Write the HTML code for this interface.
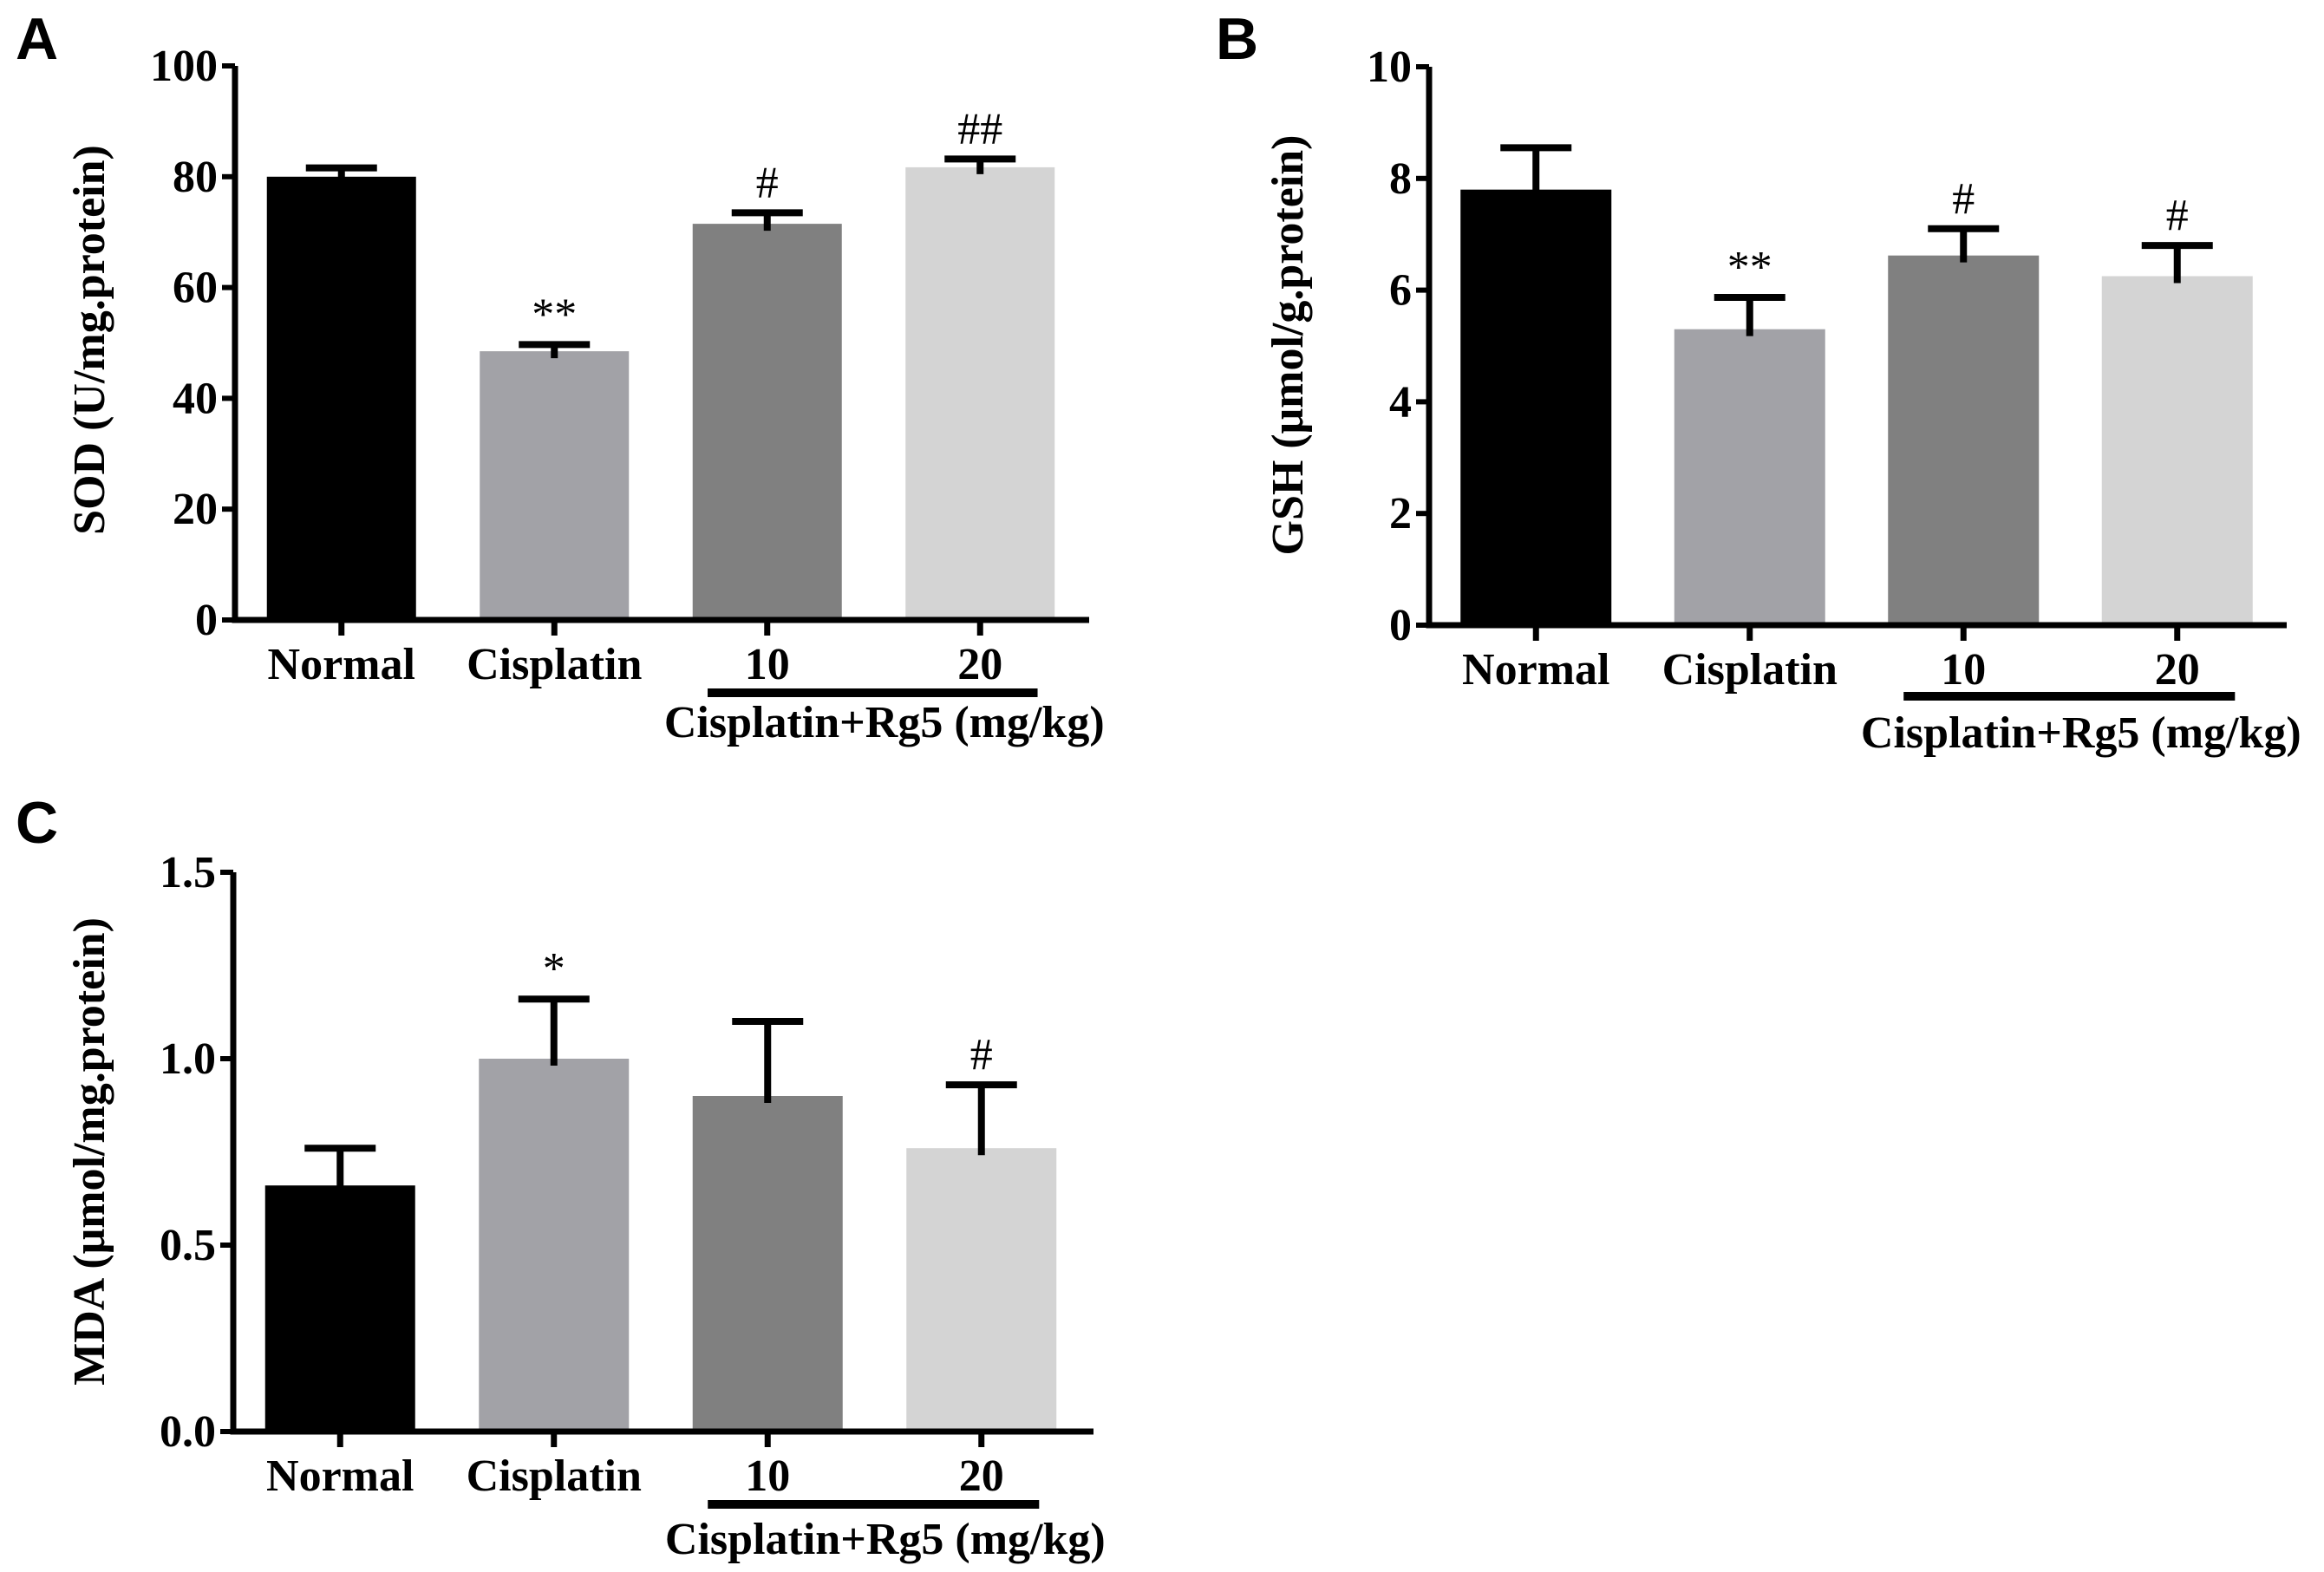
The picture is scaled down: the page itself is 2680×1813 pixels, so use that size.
<!DOCTYPE html>
<html><head><meta charset="utf-8"><style>
html,body{margin:0;padding:0;background:#fff;}
svg{display:block;}
text{font-family:"Liberation Serif",serif;}
text.sans{font-family:"Liberation Sans",sans-serif;}
</style></head>
<body>
<svg id="fig" width="2680" height="1813" viewBox="0 0 2680 1813" xmlns="http://www.w3.org/2000/svg"></svg>
<script>
const categories = ["Normal", "Cisplatin", "10", "20"];
const barColors = ["#000000", "#a2a2a7", "#808080", "#d4d4d4"];
const sodValues = [80, 48.5, 71.5, 81.7];
const sodErrors = [81.6, 49.7, 73.5, 83.2];
const sodMarks = ["", "**", "#", "##"];
const sodTicks = [0, 20, 40, 60, 80, 100];
const gshValues = [7.8, 5.3, 6.62, 6.25];
const gshErrors = [8.55, 5.87, 7.1, 6.8];
const gshMarks = ["", "**", "#", "#"];
const gshTicks = [0, 2, 4, 6, 8, 10];
const mdaValues = [0.66, 1.0, 0.9, 0.76];
const mdaErrors = [0.76, 1.16, 1.10, 0.93];
const mdaMarks = ["", "*", "", "#"];
const mdaTicks = [0, 0.5, 1.0, 1.5];
const mdaTickLabels = ["0.0", "0.5", "1.0", "1.5"];

const NS = "http://www.w3.org/2000/svg";
const svg = document.getElementById("fig");
function mk(tag, attrs, parent, txt) {
  const e = document.createElementNS(NS, tag);
  for (const k in attrs) e.setAttribute(k, attrs[k]);
  if (txt !== undefined) e.textContent = txt;
  (parent || svg).appendChild(e);
  return e;
}

function panel(p) {
  const g = mk("g", {});
  
  
  const yScale = v => p.y0 - (v - p.tmin) / (p.tmax - p.tmin) * (p.y0 - p.y1);
  const L = mk("text", {class: "sans", x: p.letterX, y: p.letterY, "font-weight": "bold", "font-size": 68}, g, p.letter);
  
  
  const bw = p.barW;
  p.values.forEach((v, i) => {
    const cx = p.x0 + p.band * (i + 0.5);
    const top = yScale(v);
    const r = mk("rect", {x: cx - bw / 2, y: top, width: bw, height: p.y0 - top, fill: barColors[i]}, g);
    
    
    const ey = yScale(p.errors[i]);
    const eb = mk("path", {d: `M${cx} ${top + 8} V${ey} M${cx - 41} ${ey} H${cx + 41}`, stroke: "#000", "stroke-width": 8, fill: "none"}, g);
    
    
    if (p.marks[i]) {
      const m = mk("text", {x: cx, y: ey - 18, "text-anchor": "middle", "font-size": 52}, g, p.marks[i]);
      
      
    }
    const t = mk("line", {x1: cx, x2: cx, y1: p.y0, y2: p.y0 + 18, stroke: "#000", "stroke-width": 7}, g);
    
    
    const lab = mk("text", {x: cx, y: p.catY, "text-anchor": "middle", "font-weight": "bold", "font-size": 52}, g, categories[i]);
    
    
  });
  const ax = mk("path", {d: `M${p.x0} ${p.y1} V${p.y0} H${p.xEnd}`, stroke: "#000", "stroke-width": 7, fill: "none"}, g);
  
  
  p.ticks.forEach((t, i) => {
    const y = yScale(t);
    const tl = mk("line", {x1: p.x0 - 15, x2: p.x0, y1: y, y2: y, stroke: "#000", "stroke-width": 6}, g);
    
    
    const tx = mk("text", {x: p.x0 - 20, y: y + 17, "text-anchor": "end", "font-weight": "bold", "font-size": 52}, g, p.tickLabels ? p.tickLabels[i] : String(t));
    
    
  });
  const yl = mk("text", {x: 0, y: 0, transform: `translate(${p.ylabX},${p.ylabY}) rotate(-90)`, "text-anchor": "middle", "font-weight": "bold", "font-size": 52}, g, p.ylabel);
  
  
  const ul = mk("rect", {x: p.x0 + p.band * 2.22, y: p.ulY - 5, width: p.band * 1.55, height: 10, fill: "#000"}, g);
  
  
  const gl = mk("text", {x: p.x0 + p.band * 3.05, y: p.groupY, "text-anchor": "middle", "font-weight": "bold", "font-size": 52}, g, "Cisplatin+Rg5 (mg/kg)");
  
  
}

panel({name: "panel-a-sod", letter: "A", letterX: 18, letterY: 68, x0: 271, xEnd: 1256, band: 245.5, barW: 172,
  y0: 715, y1: 76, tmin: 0, tmax: 100, values: sodValues, errors: sodErrors, marks: sodMarks, ticks: sodTicks,
  catY: 783, ulY: 799, groupY: 850, ylabel: "SOD (U/mg.protein)", ylabX: 120, ylabY: 392});
panel({name: "panel-b-gsh", letter: "B", letterX: 1402, letterY: 68, x0: 1648, xEnd: 2637, band: 246.5, barW: 174,
  y0: 721, y1: 77, tmin: 0, tmax: 10, values: gshValues, errors: gshErrors, marks: gshMarks, ticks: gshTicks,
  catY: 789, ulY: 803, groupY: 862, ylabel: "GSH (μmol/g.protein)", ylabX: 1502, ylabY: 398});
panel({name: "panel-c-mda", letter: "C", letterX: 18, letterY: 972, x0: 269, xEnd: 1261, band: 246.5, barW: 173,
  y0: 1651, y1: 1006, tmin: 0, tmax: 1.5, values: mdaValues, errors: mdaErrors, marks: mdaMarks, ticks: mdaTicks, tickLabels: mdaTickLabels,
  catY: 1719, ulY: 1735, groupY: 1792, ylabel: "MDA (μmol/mg.protein)", ylabX: 120, ylabY: 1328});
</script>
</body></html>
